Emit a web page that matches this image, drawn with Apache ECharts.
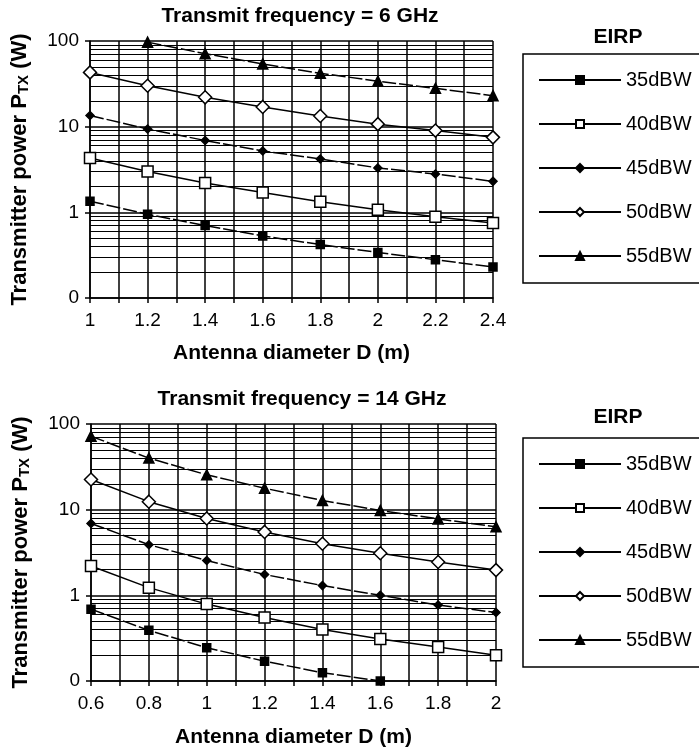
<!DOCTYPE html>
<html>
<head>
<meta charset="utf-8">
<script src="https://cdn.jsdelivr.net/npm/echarts@6/dist/echarts.min.js"></script>
<style>
  html, body { margin: 0; padding: 0; background: #fff; }
  #chart { width: 699px; height: 749px; }
</style>
</head>
<body>
<div id="chart"></div>
<script>
// EIRP levels (legend)
const eirpNames = ['35dBW', '40dBW', '45dBW', '50dBW', '55dBW'];

// 6 GHz panel
const diam6 = [1, 1.2, 1.4, 1.6, 1.8, 2, 2.2, 2.4];
const p6_35 = [1.35, 0.95, 0.70, 0.53, 0.42, 0.34, 0.28, 0.23];
const p6_40 = [4.3, 3.0, 2.2, 1.7, 1.33, 1.07, 0.89, 0.75];
const p6_45 = [13.5, 9.4, 6.9, 5.2, 4.2, 3.3, 2.8, 2.3];
const p6_50 = [43, 30, 22, 17, 13.3, 10.7, 9.0, 7.5];
const p6_55 = [null, 97, 71, 54, 42, 34, 28, 23];

// 14 GHz panel
const diam14 = [0.6, 0.8, 1, 1.2, 1.4, 1.6, 1.8, 2];
const p14_35 = [0.69, 0.39, 0.245, 0.17, 0.125, 0.1, null, null];
const p14_40 = [2.2, 1.23, 0.79, 0.55, 0.40, 0.31, 0.25, 0.2];
const p14_45 = [6.9, 3.9, 2.55, 1.75, 1.3, 1.0, 0.77, 0.63];
const p14_50 = [22.5, 12.4, 7.9, 5.5, 4.0, 3.1, 2.45, 1.97];
const p14_55 = [72, 40, 25.5, 17.8, 12.8, 9.8, 7.8, 6.3];

const yTickLabels = { 0.1: '0', 1: '1', 10: '10', 100: '100' };

const chart = echarts.init(document.getElementById('chart'));

const font = 'Liberation Sans, Arial, Helvetica, sans-serif';

const markerStyle = [
  { symbol: 'rect', symbolSize: 8, fill: '#000', dash: [14, 3] },
  { symbol: 'rect', symbolSize: 11, fill: '#fff', dash: 'solid' },
  { symbol: 'diamond', symbolSize: 8, fill: '#000', dash: [14, 3] },
  { symbol: 'diamond', symbolSize: 13, fill: '#fff', dash: 'solid' },
  { symbol: 'triangle', symbolSize: 10, fill: '#000', dash: [14, 3] }
];

function pairs(xs, ys) {
  const out = [];
  xs.forEach((x, i) => { if (ys[i] != null) out.push([x, ys[i]]); });
  return out;
}

// log minor grid lines (2..9 in each decade)
const minorLines = [];
[0.1, 1, 10].forEach(d => {
  for (let k = 2; k <= 9; k++) minorLines.push({ yAxis: +(d * k).toPrecision(3) });
});

function makeSeries(idx, xs, sets) {
  const list = sets.map((ys, i) => ({
    name: eirpNames[i],
    type: 'line',
    xAxisIndex: idx,
    yAxisIndex: idx,
    data: pairs(xs, ys),
    symbol: markerStyle[i].symbol,
    symbolSize: markerStyle[i].symbolSize,
    showAllSymbol: true,
    z: 5,
    lineStyle: { color: '#000', width: 1.5, type: markerStyle[i].dash },
    itemStyle: { color: markerStyle[i].fill, borderColor: '#000', borderWidth: 1.5 }
  }));
  list.push({
    type: 'line',
    xAxisIndex: idx,
    yAxisIndex: idx,
    data: [],
    silent: true,
    z: 1,
    markLine: {
      silent: true,
      symbol: 'none',
      label: { show: false },
      lineStyle: { color: '#000', width: 1, type: 'solid' },
      data: minorLines
    }
  });
  return list;
}

function xAxisOf(idx, mn, mx, gap) {
  return {
    type: 'value',
    gridIndex: idx,
    min: mn,
    max: mx,
    interval: 0.1,
    name: 'Antenna diameter D (m)',
    nameLocation: 'middle',
    nameGap: gap,
    nameTextStyle: { fontFamily: font, fontSize: 21, fontWeight: 'bold', color: '#000' },
    axisLine: { lineStyle: { color: '#000', width: 1.5 } },
    axisTick: { show: true, length: 5, lineStyle: { color: '#000', width: 1.5 } },
    axisLabel: {
      fontFamily: font, fontSize: 19, color: '#000', margin: 13,
      formatter: v => (Math.round(v * 10) % 2 === 0 ? String(+v.toFixed(1)) : '')
    },
    splitLine: { show: true, lineStyle: { color: '#000', width: 1.5 } }
  };
}

function yAxisOf(idx) {
  return {
    type: 'log',
    gridIndex: idx,
    logBase: 10,
    min: 0.1,
    max: 100,
    name: '{a|Transmitter power P}{b|TX}{a| (W)}',
    nameLocation: 'middle',
    nameRotate: 90,
    nameGap: 59,
    nameTextStyle: {
      rich: {
        a: { fontFamily: font, fontSize: 22, fontWeight: 'bold', color: '#000', verticalAlign: 'bottom', lineHeight: 25 },
        b: { fontFamily: font, fontSize: 15, fontWeight: 'bold', color: '#000', verticalAlign: 'bottom', lineHeight: 17 }
      }
    },
    axisLine: { show: true, lineStyle: { color: '#000', width: 1.5 } },
    axisTick: { show: true, length: 5, lineStyle: { color: '#000', width: 1.5 } },
    axisLabel: {
      fontFamily: font, fontSize: 19, color: '#000', margin: 11,
      formatter: v => yTickLabels[+v.toPrecision(3)] || ''
    },
    splitLine: { show: true, lineStyle: { color: '#000', width: 1.5 } }
  };
}

function legendOf(top) {
  return {
    orient: 'vertical',
    left: 523,
    top: top,
    data: eirpNames,
    itemWidth: 82,
    itemHeight: 10,
    itemGap: 24,
    padding: [16, 30, 17, 15],
    borderColor: '#000',
    borderWidth: 1.5,
    lineStyle: { type: 'solid', width: 2, color: '#000' },
    textStyle: { fontFamily: font, fontSize: 20, color: '#000' },
    inactiveColor: '#999'
  };
}

const titleStyle = { fontFamily: font, fontSize: 21, fontWeight: 'bold', color: '#000' };

const option = {
  backgroundColor: '#fff',
  animation: false,
  title: [
    { text: 'Transmit frequency = 6 GHz', left: 295, top: 1, textAlign: 'center', textStyle: titleStyle },
    { text: 'Transmit frequency = 14 GHz', left: 297, top: 384, textAlign: 'center', textStyle: titleStyle },
    { text: 'EIRP', left: 613, top: 22, textAlign: 'center', textStyle: titleStyle },
    { text: 'EIRP', left: 613, top: 402, textAlign: 'center', textStyle: titleStyle }
  ],
  legend: [legendOf(54), legendOf(438)],
  grid: [
    { left: 90, top: 41, width: 403, height: 257 },
    { left: 91, top: 424, width: 405, height: 258 }
  ],
  xAxis: [xAxisOf(0, 1, 2.4, 45), xAxisOf(1, 0.6, 2, 46)],
  yAxis: [yAxisOf(0), yAxisOf(1)],
  series: [
    ...makeSeries(0, diam6, [p6_35, p6_40, p6_45, p6_50, p6_55]),
    ...makeSeries(1, diam14, [p14_35, p14_40, p14_45, p14_50, p14_55])
  ]
};

chart.setOption(option);
</script>
</body>
</html>
